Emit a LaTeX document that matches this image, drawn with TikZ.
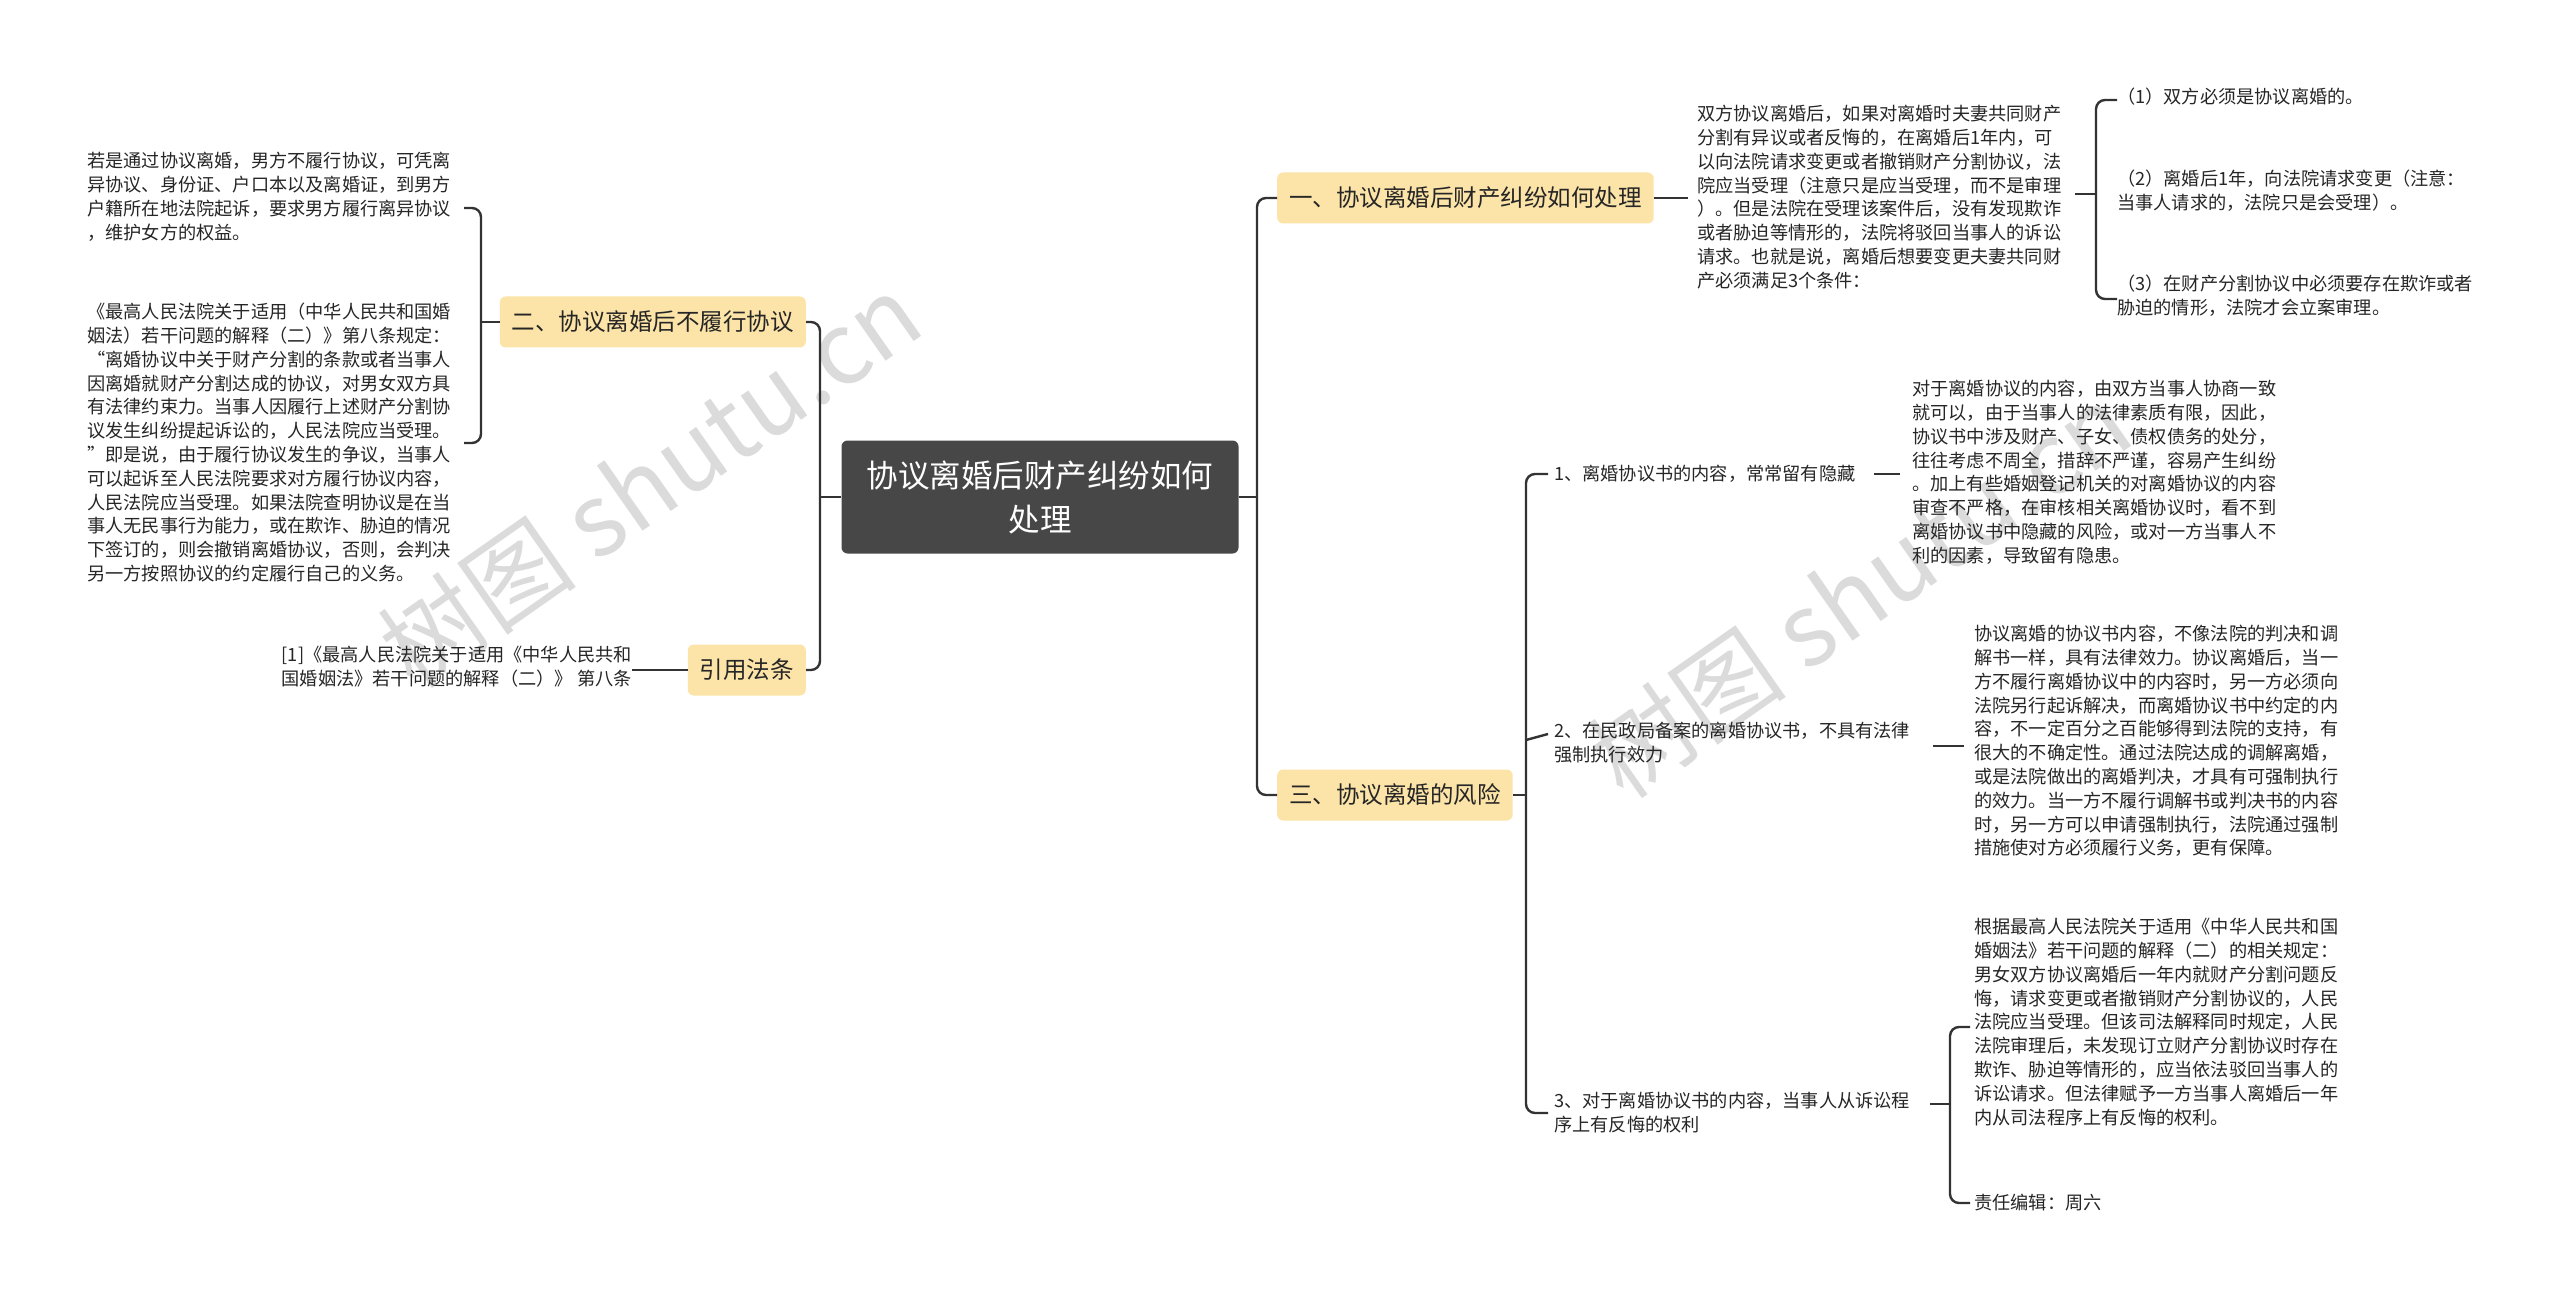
\documentclass[tikz,border=0pt]{standalone}
\usepackage{fontspec}
\setmainfont{Noto Sans CJK SC}
\begin{document}
\begin{tikzpicture}[x=1pt,y=-1pt,
  conn/.style={draw=black!80,line width=2.4pt,rounded corners=9pt},
  topic/.style={fill=yellowbox,rounded corners=6pt,inner xsep=12pt,minimum height=51pt,font=\fontsize{23.5}{28}\selectfont,text=black!85},
  leaf/.style={inner sep=0pt,align=left,font=\fontsize{18.2}{23.8}\selectfont,text=black!85},
  wm/.style={text=black!14,font=\fontsize{100}{100}\selectfont,rotate=35}]
\definecolor{yellowbox}{HTML}{FCE4A9}
\definecolor{rootbg}{HTML}{474747}
\useasboundingbox (0,0) rectangle (2560,1297);
\fill[white] (0,0) rectangle (2560,1297);
% watermarks
\node[wm] (wm1) at (650,480) {树图 shutu.cn};
\node[wm] (wm2) at (1860,590) {树图 shutu.cn};
% root
\node[fill=rootbg,rounded corners=6pt,minimum width=397pt,minimum height=113pt,text=white,align=center,font=\fontsize{31.5}{44}\selectfont] (root) at (1040,497) {协议离婚后财产纠纷如何\\处理};
% topics
\node[topic,anchor=east] (b2) at (806,322) {二、协议离婚后不履行协议};
\node[topic,anchor=east] (bref) at (806,670) {引用法条};
\node[topic,anchor=west] (b1) at (1277,198) {一、协议离婚后财产纠纷如何处理};
\node[topic,anchor=west] (b3) at (1277,795) {三、协议离婚的风险};
% left leaves
\node[leaf,anchor=north west] (L1) at (87,152) {若是通过协议离婚，男方不履行协议，可凭离\\异协议、身份证、户口本以及离婚证，到男方\\户籍所在地法院起诉，要求男方履行离异协议\\，维护女方的权益。};
\node[leaf,anchor=north west] (L2) at (87,303) {《最高人民法院关于适用（中华人民共和国婚\\姻法）若干问题的解释（二）》第八条规定：\\“离婚协议中关于财产分割的条款或者当事人\\因离婚就财产分割达成的协议，对男女双方具\\有法律约束力。当事人因履行上述财产分割协\\议发生纠纷提起诉讼的，人民法院应当受理。\\”即是说，由于履行协议发生的争议，当事人\\可以起诉至人民法院要求对方履行协议内容，\\人民法院应当受理。如果法院查明协议是在当\\事人无民事行为能力，或在欺诈、胁迫的情况\\下签订的，则会撤销离婚协议，否则，会判决\\另一方按照协议的约定履行自己的义务。};
\node[leaf,anchor=north east,align=left] (ref) at (632,646) {[1]《最高人民法院关于适用《中华人民共和\\国婚姻法》若干问题的解释（二）》 第八条};
% right top
\node[leaf,anchor=north west] (T1) at (1697,105) {双方协议离婚后，如果对离婚时夫妻共同财产\\分割有异议或者反悔的，在离婚后1年内，可\\以向法院请求变更或者撤销财产分割协议，法\\院应当受理（注意只是应当受理，而不是审理\\）。但是法院在受理该案件后，没有发现欺诈\\或者胁迫等情形的，法院将驳回当事人的诉讼\\请求。也就是说，离婚后想要变更夫妻共同财\\产必须满足3个条件：};
\node[leaf,anchor=north west] (I1) at (2117,88) {（1）双方必须是协议离婚的。};
\node[leaf,anchor=north west] (I2) at (2117,170) {（2）离婚后1年，向法院请求变更（注意：\\当事人请求的，法院只是会受理）。};
\node[leaf,anchor=north west] (I3) at (2117,275) {（3）在财产分割协议中必须要存在欺诈或者\\胁迫的情形，法院才会立案审理。};
% right bottom
\node[leaf,anchor=west] (c1) at (1554,474) {1、离婚协议书的内容，常常留有隐藏};
\node[leaf,anchor=north west] (c2) at (1554,722) {2、在民政局备案的离婚协议书，不具有法律\\强制执行效力};
\node[leaf,anchor=north west] (c3) at (1554,1092) {3、对于离婚协议书的内容，当事人从诉讼程\\序上有反悔的权利};
\node[leaf,anchor=north west] (R1) at (1912,380) {对于离婚协议的内容，由双方当事人协商一致\\就可以，由于当事人的法律素质有限，因此，\\协议书中涉及财产、子女、债权债务的处分，\\往往考虑不周全，措辞不严谨，容易产生纠纷\\。加上有些婚姻登记机关的对离婚协议的内容\\审查不严格，在审核相关离婚协议时，看不到\\离婚协议书中隐藏的风险，或对一方当事人不\\利的因素，导致留有隐患。};
\node[leaf,anchor=north west] (R2) at (1974,625) {协议离婚的协议书内容，不像法院的判决和调\\解书一样，具有法律效力。协议离婚后，当一\\方不履行离婚协议中的内容时，另一方必须向\\法院另行起诉解决，而离婚协议书中约定的内\\容，不一定百分之百能够得到法院的支持，有\\很大的不确定性。通过法院达成的调解离婚，\\或是法院做出的离婚判决，才具有可强制执行\\的效力。当一方不履行调解书或判决书的内容\\时，另一方可以申请强制执行，法院通过强制\\措施使对方必须履行义务，更有保障。};
\node[leaf,anchor=north west] (R3) at (1974,918) {根据最高人民法院关于适用《中华人民共和国\\婚姻法》若干问题的解释（二）的相关规定：\\男女双方协议离婚后一年内就财产分割问题反\\悔，请求变更或者撤销财产分割协议的，人民\\法院应当受理。但该司法解释同时规定，人民\\法院审理后，未发现订立财产分割协议时存在\\欺诈、胁迫等情形的，应当依法驳回当事人的\\诉讼请求。但法律赋予一方当事人离婚后一年\\内从司法程序上有反悔的权利。};
\node[leaf,anchor=west] (ed) at (1974,1203) {责任编辑：周六};
% connectors root-left
\coordinate (tl) at (820,497);
\draw[conn] (root.west) -- (tl);
\draw[conn] (b2.east) -- (tl |- b2.east) -- (tl) -- (tl |- bref.east) -- (bref.east);
\draw[conn] (bref.west) -- (ref.east |- bref.west) ++(4,0);
\draw[conn] (bref.west) -- (640,670);
% b2 bracket
\coordinate (tb) at (481,322);
\draw[conn] (b2.west) -- (tb);
\draw[conn] (464,208) -- (481,208) -- (tb) -- (481,443) -- (464,443);
% root-right
\coordinate (tr) at (1257,497);
\draw[conn] (root.east) -- (tr);
\draw[conn] (b1.west) -- (tr |- b1.west) -- (tr) -- (tr |- b3.west) -- (b3.west);
% b1
\draw[conn] (b1.east) -- (1688,198);
\draw[conn] (2075,194) -- (2096,194);
\draw[conn] (2117,100) -- (2096,100) -- (2096,194) -- (2096,299) -- (2117,299);
% b3 trunk
\coordinate (t3) at (1526,795);
\draw[conn] (b3.east) -- (t3);
\draw[conn] (1548,474) -- (t3 |- 0,474) -- (t3) -- (1526,1113) -- (1548,1113);
\draw[conn] (1526,740) -- (1548,734);
\draw[conn] (1874,474) -- (1900,474);
\draw[conn] (1933,746) -- (1964,746);
\draw[conn] (1930,1104) -- (1950,1104);
\draw[conn] (1970,1027) -- (1950,1027) -- (1950,1104) -- (1950,1203) -- (1970,1203);
\end{tikzpicture}
\end{document}
